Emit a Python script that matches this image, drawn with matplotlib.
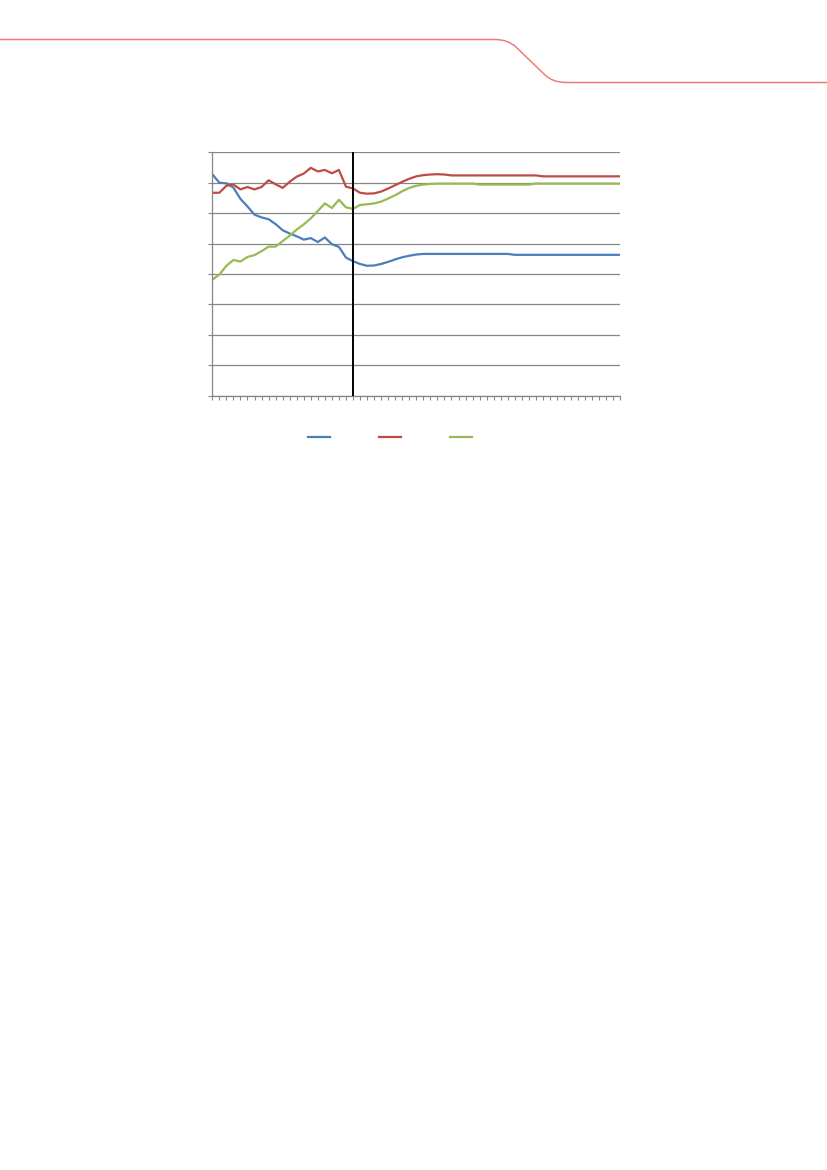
import matplotlib
matplotlib.use("Agg")
import matplotlib.pyplot as plt
from matplotlib.path import Path
from matplotlib.patches import PathPatch
from matplotlib.lines import Line2D
import numpy as np

# ---- data (59 categories, no labels in the reference) ----
blue_vals = [7.28, 7.00, 6.98, 6.84, 6.47, 6.22, 5.95, 5.86, 5.80, 5.64,
             5.44, 5.33, 5.24, 5.13, 5.18, 5.05, 5.20, 4.98, 4.89, 4.54,
             4.42, 4.33, 4.27, 4.28, 4.33, 4.40, 4.48, 4.55, 4.60, 4.64,
             4.66] + [4.66] * 12 + [4.63] * 16
red_vals = [6.67, 6.67, 6.90, 6.94, 6.78, 6.86, 6.78, 6.86, 7.08, 6.95,
            6.83, 7.03, 7.20, 7.30, 7.49, 7.37, 7.42, 7.31, 7.42, 6.87,
            6.81, 6.67, 6.64, 6.65, 6.71, 6.81, 6.92, 7.03, 7.13, 7.21,
            7.25, 7.27, 7.28, 7.27] + [7.24] * 13 + [7.21] * 12
green_vals = [3.81, 3.98, 4.27, 4.46, 4.41, 4.56, 4.62, 4.75, 4.90, 4.90,
              5.08, 5.26, 5.46, 5.63, 5.83, 6.07, 6.32, 6.17, 6.44, 6.19,
              6.14, 6.27, 6.29, 6.32, 6.38, 6.48, 6.59, 6.72, 6.83, 6.90,
              6.94, 6.96, 6.97] + [6.97] * 5 + [6.94] * 8 + [6.97] * 13
categories = list(range(len(blue_vals)))
divider_index = 20
y_ticks = [0, 1, 2, 3, 4, 5, 6, 7, 8]

W, H = 827, 1170
fig = plt.figure(figsize=(W / 100, H / 100), dpi=100)
fig.patch.set_facecolor("white")

# ---- decorative header line ----
def fx(px):
    return px / W

def fy(py):
    return 1 - py / H

verts = [(0, 39.5), (495, 39.5), (508, 39.5), (516, 47), (545, 75),
         (553, 82.5), (566, 82.5), (827, 82.5)]
codes = [Path.MOVETO, Path.LINETO, Path.CURVE3, Path.CURVE3, Path.LINETO,
         Path.CURVE3, Path.CURVE3, Path.LINETO]
path = Path([(fx(x), fy(y)) for x, y in verts], codes)
fig.patches.append(PathPatch(path, transform=fig.transFigure, fill=False,
                             edgecolor="#F07A7A", lw=1.1))

# ---- chart ----
left, right = 212.3 / W, 620.3 / W
bottom, top = 1 - 395.7 / H, 1 - 152.3 / H
ax = fig.add_axes([left, bottom, right - left, top - bottom])

grid_col = "#868686"
ax.set_xlim(0, len(categories) - 1)
ax.set_ylim(0, 8)
ax.set_yticks(y_ticks)
ax.set_yticklabels([])
ax.set_xticks(categories)
ax.set_xticklabels([])
ax.tick_params(axis="y", direction="out", length=3, width=0.8, color=grid_col)
ax.tick_params(axis="x", direction="out", length=3, width=0.8, color=grid_col)
ax.yaxis.grid(True, color=grid_col, lw=0.9)
ax.set_axisbelow(True)
for s in ["top", "right"]:
    ax.spines[s].set_visible(False)
for s in ["left", "bottom"]:
    ax.spines[s].set_color(grid_col)
    ax.spines[s].set_linewidth(0.9)

c_blue, c_red, c_green = "#4A7EBB", "#BE4B48", "#98B954"
lb, = ax.plot(categories, blue_vals, color=c_blue, lw=1.6, solid_joinstyle="round")
lr, = ax.plot(categories, red_vals, color=c_red, lw=1.6, solid_joinstyle="round")
lg, = ax.plot(categories, green_vals, color=c_green, lw=1.6, solid_joinstyle="round")
ax.axvline(divider_index, color="black", lw=1.4, zorder=5)

leg = fig.legend([lb, lr, lg], ["", "", ""], loc="center",
                 bbox_to_anchor=(fx(392), fy(438)), ncol=3, frameon=False,
                 handlelength=1.6, handletextpad=0.3, columnspacing=3.2,
                 fontsize=10)

fig.savefig("out.png", dpi=100, facecolor="white")
